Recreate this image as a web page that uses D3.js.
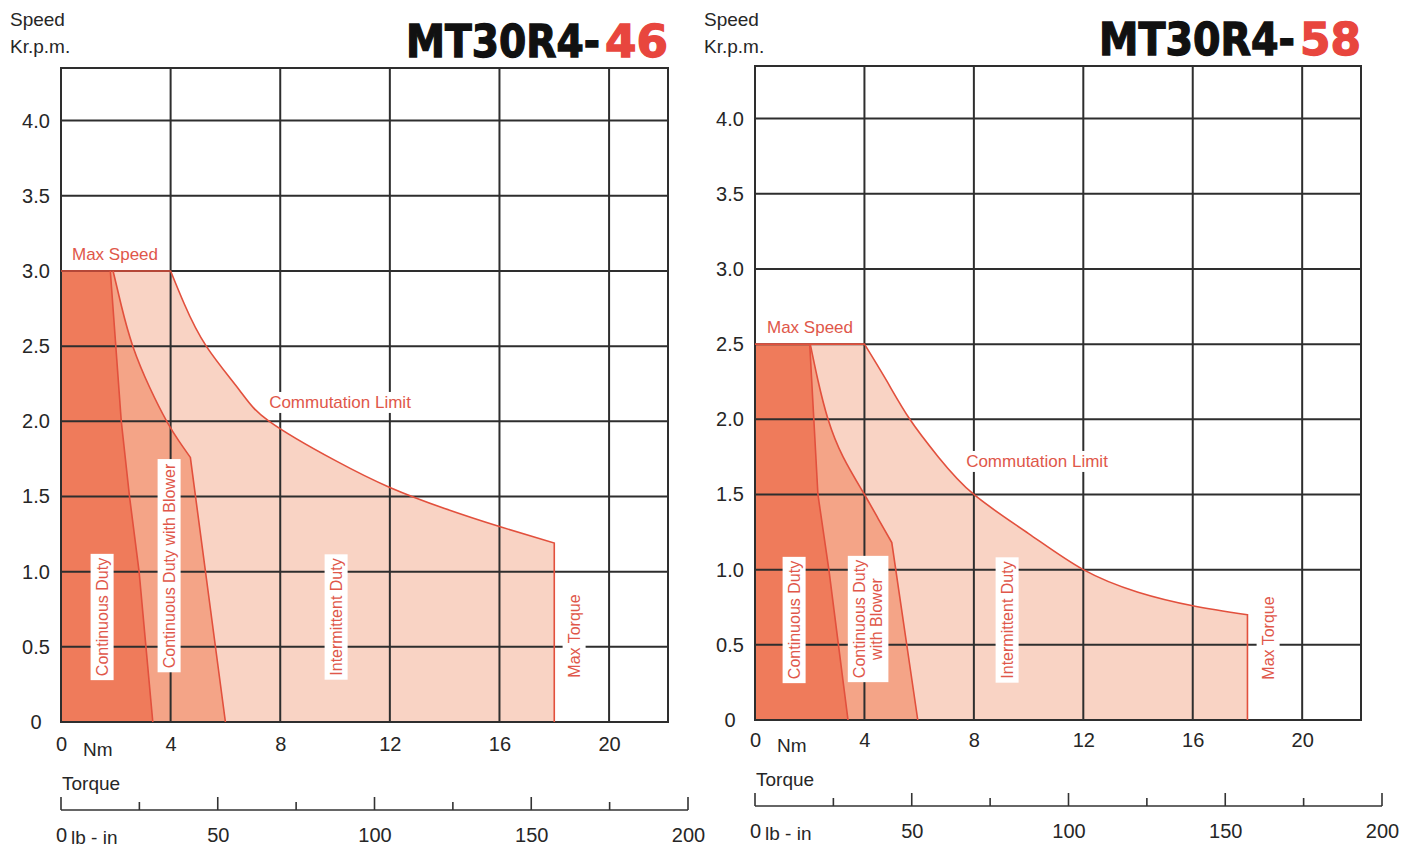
<!DOCTYPE html>
<html><head><meta charset="utf-8">
<script src="https://cdn.jsdelivr.net/npm/d3@7"></script>
<style>body{margin:0;background:#fff}svg{display:block}</style>
</head><body>
<svg id="c" width="1411" height="849"></svg>
<script>
// ---------- data ----------
const nmTicks = [0, 4, 8, 12, 16, 20];
const speedTicks = [0, 0.5, 1.0, 1.5, 2.0, 2.5, 3.0, 3.5, 4.0];
const lbinTicks = [0, 25, 50, 75, 100, 125, 150, 175, 200];
const lbinLabels = [0, 50, 100, 150, 200];
const chartNames = ["MT30R4-", "MT30R4-"];
const chartSuffix = ["46", "58"];

// MT30R4-46  (torque Nm, speed krpm)
const maxSpeed46 = 3.0;
const continuous46 = [[0, 3.0], [1.8, 3.0], [2.2, 2.0], [2.5, 1.5], [2.85, 1.0], [3.1, 0.5], [3.35, 0]];
const blower46 = [[1.9, 3.0], [2.2, 2.77], [2.62, 2.5], [3.25, 2.22], [3.86, 2.0], [4.3, 1.87], [4.72, 1.76]];
const blowerStall46 = 6.0;
const commutation46 = [[4.0, 3.0], [4.5, 2.78], [5.3, 2.5], [6.5, 2.21], [7.6, 2.0], [10, 1.74], [12, 1.56], [14, 1.42], [16, 1.30], [18, 1.19]];
const maxTorque46 = 18;

// MT30R4-58
const maxSpeed58 = 2.5;
const continuous58 = [[0, 2.5], [2.0, 2.5], [2.15, 2.0], [2.3, 1.5], [2.7, 1.0], [3.05, 0.5], [3.4, 0]];
const blower58 = [[2.02, 2.5], [2.3, 2.26], [2.67, 2.0], [3.22, 1.75], [4.0, 1.5], [4.5, 1.34], [5.0, 1.18]];
const blowerStall58 = 5.95;
const commutation58 = [[4.0, 2.5], [4.8, 2.26], [5.66, 2.0], [6.7, 1.75], [8.0, 1.5], [10, 1.24], [12, 1.0], [14, 0.85], [16, 0.76], [18, 0.70]];
const maxTorque58 = 18;

// ---------- drawing ----------
const FONT = "'Liberation Sans', Arial, sans-serif";
const C_DARK = "#ef7b5b", C_MED = "#f4a487", C_LIGHT = "#f9d3c4";
const C_EDGE = "#e2503d", C_TXT = "#e0574a", C_GRID = "#2e2e2e", C_AX = "#262626";
const svg = d3.select("#c");

function boxed(g, cx, cy, lines, size, color, rot, pad) {
  const grp = g.append("g").attr("transform", `translate(${cx},${cy}) rotate(${rot})`);
  const rect = grp.append("rect").attr("fill", "#fff");
  const t = grp.append("text").attr("text-anchor", "middle").attr("font-family", FONT)
    .attr("font-size", size).attr("fill", color);
  const lh = size * 1.1;
  lines.forEach((l, i) => t.append("tspan").attr("x", 0)
    .attr("y", (i - (lines.length - 1) / 2) * lh + size * 0.35).text(l));
  const bb = t.node().getBBox();
  rect.attr("x", bb.x - pad[0]).attr("y", bb.y - pad[1])
    .attr("width", bb.width + 2 * pad[0]).attr("height", bb.height + 2 * pad[1]);
}

function fitTitle(g, xEnd, yBase, txt, w, color) {
  const t = g.append("text").attr("text-anchor", "end")
    .attr("font-family", "'DejaVu Sans', sans-serif").attr("font-weight", "bold").attr("font-size", 40)
    .attr("fill", color).attr("stroke", color).attr("stroke-width", 1.2).text(txt);
  const nat = t.node().getComputedTextLength();
  t.attr("transform", `translate(${xEnd},${yBase}) scale(${w / nat},1.1)`);
}

function drawChart(o) {
  const g = svg.append("g");
  const x = d3.scaleLinear().domain([0, 22.15]).range([o.x0, o.x1]);
  const y = d3.scaleLinear().domain([0, 4.35]).range([o.yZero, o.yTop]);
  const line = d3.line().x(d => x(d[0])).y(d => y(d[1]));
  const curve = d3.line().x(d => x(d[0])).y(d => y(d[1])).curve(d3.curveNatural);
  const asL = s => "L" + s.slice(1);

  // regions
  const commPath = `M${x(0)},${y(0)}L${x(0)},${y(o.maxSpeed)}` + asL(curve(o.comm)) +
    `L${x(o.maxTorque)},${y(0)}Z`;
  const blowPath = `M${x(0)},${y(0)}L${x(0)},${y(o.maxSpeed)}` + asL(curve(o.blower)) +
    `L${x(o.stall)},${y(0)}Z`;
  const contPath = `M${x(0)},${y(0)}` + asL(line(o.cont)) + "Z";
  g.append("path").attr("d", commPath).attr("fill", C_LIGHT);
  g.append("path").attr("d", blowPath).attr("fill", C_MED);
  g.append("path").attr("d", contPath).attr("fill", C_DARK);

  // grid
  const grid = g.append("g").attr("stroke", C_GRID).attr("stroke-width", 2);
  grid.selectAll(".v").data(nmTicks).join("line")
    .attr("x1", d => x(d)).attr("x2", d => x(d)).attr("y1", o.yTop).attr("y2", o.yZero);
  grid.selectAll(".h").data(speedTicks).join("line")
    .attr("x1", o.x0).attr("x2", o.x1).attr("y1", d => y(d)).attr("y2", d => y(d));
  grid.append("rect").attr("x", o.x0).attr("y", o.yTop).attr("width", o.x1 - o.x0)
    .attr("height", o.yZero - o.yTop).attr("fill", "none");

  // boundary lines
  const edge = g.append("g").attr("fill", "none").attr("stroke", C_EDGE).attr("stroke-width", 1.6);
  edge.append("path").attr("d", `M${x(0)},${y(o.maxSpeed)}` + asL(curve(o.comm)) + `L${x(o.maxTorque)},${y(0)}`);
  edge.append("path").attr("d", curve(o.blower) + `L${x(o.stall)},${y(0)}`);
  edge.append("path").attr("d", line(o.cont.slice(1)));

  // y axis labels (centred in the margin, as in the reference)
  const ya = g.append("g").attr("transform", `translate(${o.x0},0)`)
    .call(d3.axisLeft(y).tickValues(speedTicks).tickSize(0).tickPadding(11)
      .tickFormat(d => d === 0 ? "0" : d.toFixed(1)));
  ya.select(".domain").remove();
  ya.attr("font-size", 20).attr("font-family", FONT).attr("text-anchor", "middle")
    .selectAll("text").attr("fill", C_AX).attr("x", -25);

  // x axis labels
  const xa = g.append("g").attr("transform", `translate(0,${o.yZero})`)
    .call(d3.axisBottom(x).tickValues(nmTicks).tickSize(0).tickPadding(o.xPad).tickFormat(d3.format("d")));
  xa.select(".domain").remove();
  xa.attr("font-size", 20).attr("font-family", FONT).selectAll("text").attr("fill", C_AX);
  g.append("text").attr("x", o.x0 + 22).attr("y", o.yZero + o.xPad + 19).attr("font-family", FONT)
    .attr("font-size", 19).attr("fill", C_AX).text("Nm");

  // axis titles
  const tt = g.append("g").attr("font-family", FONT).attr("font-size", 19).attr("fill", C_AX);
  tt.append("text").attr("x", o.x0 - 51).attr("y", 26).text("Speed");
  tt.append("text").attr("x", o.x0 - 51).attr("y", 53).text("Kr.p.m.");
  tt.append("text").attr("x", o.x0 + 1).attr("y", o.lbY - 20).text("Torque");

  // lb-in axis
  const lb = d3.scaleLinear().domain([0, 200]).range([o.x0, o.x0 + 627]);
  const la = g.append("g").attr("stroke", "#333").attr("stroke-width", 1.6);
  la.append("line").attr("x1", lb(0)).attr("x2", lb(200)).attr("y1", o.lbY).attr("y2", o.lbY);
  la.selectAll(".t").data(lbinTicks).join("line")
    .attr("x1", d => lb(d)).attr("x2", d => lb(d)).attr("y1", o.lbY)
    .attr("y2", d => o.lbY - (d % 50 === 0 ? 13 : 8));
  const lbl = g.append("g").attr("transform", `translate(0,${o.lbY})`)
    .call(d3.axisBottom(lb).tickValues(lbinLabels).tickSize(0).tickPadding(18).tickFormat(d3.format("d")));
  lbl.select(".domain").remove();
  lbl.attr("font-size", 20).attr("font-family", FONT).selectAll("text").attr("fill", C_AX);
  g.append("text").attr("x", lb(0) + 10).attr("y", o.lbY + 34).attr("font-family", FONT)
    .attr("font-size", 19).attr("fill", C_AX).text("lb - in");

  // title
  fitTitle(g, o.x1, o.titleY, o.suffix, o.sufW, "#e8463e");
  fitTitle(g, o.x1 - o.sufW - 5, o.titleY, o.name, o.nameW, "#111");

  // labels
  boxed(g, o.maxSpeedLbl[0], y(o.maxSpeed) - 17, ["Max Speed"], 17, C_TXT, 0, [3, 1]);
  boxed(g, o.commLbl[0], o.commLbl[1], ["Commutation Limit"], 17, C_TXT, 0, [3, 1]);
  o.vLabels.forEach(v => boxed(g, v.cx, v.cy, v.lines, 16, C_TXT, -90, [4, 3]));
  return g;
}

drawChart({
  x0: 61, x1: 668, yTop: 68, yZero: 722, xPad: 15, lbY: 810, titleY: 57, nameW: 194, sufW: 63,
  name: chartNames[0], suffix: chartSuffix[0],
  maxSpeed: maxSpeed46, cont: continuous46, blower: blower46, stall: blowerStall46,
  comm: commutation46, maxTorque: maxTorque46,
  maxSpeedLbl: [115], commLbl: [340, 402],
  vLabels: [
    { cx: 102, cy: 617, lines: ["Continuous Duty"] },
    { cx: 169, cy: 566, lines: ["Continuous Duty with Blower"] },
    { cx: 336, cy: 617, lines: ["Intermittent Duty"] },
    { cx: 574, cy: 636, lines: ["Max Torque"] }
  ]
});
drawChart({
  x0: 755, x1: 1361, yTop: 66, yZero: 720, xPad: 13, lbY: 806, titleY: 55, nameW: 196, sufW: 61,
  name: chartNames[1], suffix: chartSuffix[1],
  maxSpeed: maxSpeed58, cont: continuous58, blower: blower58, stall: blowerStall58,
  comm: commutation58, maxTorque: maxTorque58,
  maxSpeedLbl: [810], commLbl: [1037, 461],
  vLabels: [
    { cx: 794, cy: 620, lines: ["Continuous Duty"] },
    { cx: 868, cy: 619, lines: ["Continuous Duty", "with Blower"] },
    { cx: 1007, cy: 620, lines: ["Intermittent Duty"] },
    { cx: 1268, cy: 638, lines: ["Max Torque"] }
  ]
});
</script>
</body></html>
